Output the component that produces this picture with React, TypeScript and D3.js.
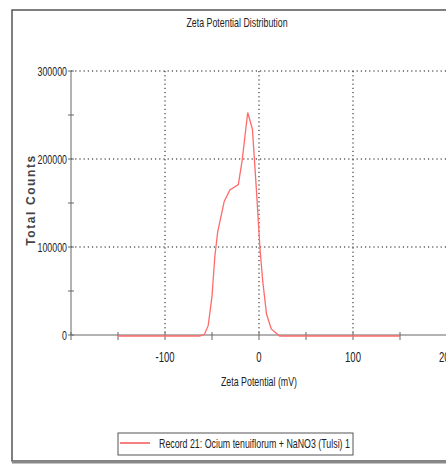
import * as d3 from 'd3'
import { useEffect, useRef } from 'react'

// zeta potential (mV) and total counts
const zeta = [-150, -63, -58, -54, -50, -47, -44, -41, -37, -31, -22, -18, -12, -7, -3, 1, 4, 8, 13, 22, 150]
const counts = [0, 0, 2000, 12000, 45000, 90000, 118000, 133000, 153000, 166000, 172000, 199000, 254000, 235000, 170000, 100000, 62000, 25000, 8000, 0, 0]
const xTicks = [-100, 0, 100, 200]
const xMinor = [-200, -150, -100, -50, 0, 50, 100, 150, 200]
const yTicks = [0, 100000, 200000, 300000]
const yMinor = [50000, 150000, 250000]
const legendLabel = 'Record 21: Ocium tenuiflorum + NaNO3 (Tulsi) 1'

const W = 446
const H = 465
const SX = 0.68
const FONT = 'Liberation Sans, Arial, sans-serif'

const App = () => {
  const svgRef = useRef<SVGSVGElement>(null)

  useEffect(() => {
    const svg = d3.select(svgRef.current)
    svg.selectAll('*').remove()

    const x = d3.scaleLinear().domain([-200, 200]).range([71, 447])
    const y = d3.scaleLinear().domain([0, 300000]).range([335, 71])

    // squeezed text like the instrument export
    const label = (tx: number, ty: number, s: string, anchor: string, size = 13) =>
      svg
        .append('text')
        .attr('transform', `translate(${tx},${ty}) scale(${SX},1)`)
        .attr('text-anchor', anchor)
        .style('font-family', FONT)
        .style('font-size', size)
        .style('fill', '#222')
        .text(s)

    // outer frame
    svg
      .append('rect')
      .attr('x', 12)
      .attr('y', 10)
      .attr('width', 460)
      .attr('height', 451)
      .attr('fill', 'none')
      .attr('stroke', '#555')
      .attr('stroke-width', 1.5)
    svg
      .append('line')
      .attr('x1', 12).attr('x2', W)
      .attr('y1', 462).attr('y2', 462)
      .attr('stroke', '#888')
      .attr('stroke-width', 3)

    label(237, 27, 'Zeta Potential Distribution', 'middle', 13)

    // grid
    const grid = svg.append('g').attr('stroke', '#111').attr('stroke-dasharray', '1.2,3')
    grid
      .selectAll('line.h')
      .data(yTicks.filter((d) => d > 0))
      .join('line')
      .attr('x1', x(-200)).attr('x2', W)
      .attr('y1', (d) => y(d)).attr('y2', (d) => y(d))
    grid
      .selectAll('line.v')
      .data([-100, 0, 100])
      .join('line')
      .attr('x1', (d) => x(d)).attr('x2', (d) => x(d))
      .attr('y1', y(300000)).attr('y2', y(0))

    // axes
    const ax = svg.append('g').attr('stroke', '#666').attr('stroke-width', 1)
    ax.append('line').attr('x1', x(-200)).attr('x2', W).attr('y1', y(0)).attr('y2', y(0))
    ax.append('line').attr('x1', x(-200)).attr('x2', x(-200)).attr('y1', y(300000)).attr('y2', y(0))
    ax.selectAll('line.xt')
      .data(xMinor)
      .join('line')
      .attr('x1', (d) => x(d)).attr('x2', (d) => x(d))
      .attr('y1', y(0) - 3).attr('y2', y(0) + 5)
    ax.selectAll('line.yt')
      .data([...yTicks, ...yMinor])
      .join('line')
      .attr('x1', x(-200) - 3).attr('x2', x(-200) + 3)
      .attr('y1', (d) => y(d)).attr('y2', (d) => y(d))

    yTicks.forEach((t) => label(x(-200) - 4, y(t) + 5, String(t), 'end', 13))
    xTicks.forEach((t) => label(x(t), 362, String(t), 'middle', 14))
    label(259, 386, 'Zeta Potential (mV)', 'middle', 13)

    svg
      .append('text')
      .attr('transform', `translate(35,200) rotate(-90)`)
      .attr('text-anchor', 'middle')
      .style('font-family', FONT)
      .style('font-size', 12)
      .style('font-weight', 'bold')
      .style('letter-spacing', '1.6px')
      .style('fill', '#444')
      .text('Total Counts')

    // data line
    const line = d3
      .line<number>()
      .x((d, i) => x(zeta[i]))
      .y((d) => y(d) + 1)
    svg
      .append('path')
      .datum(counts)
      .attr('d', line)
      .attr('fill', 'none')
      .attr('stroke', '#ff6b6b')
      .attr('stroke-width', 1.3)

    // legend
    svg
      .append('rect')
      .attr('x', 118).attr('y', 433)
      .attr('width', 235).attr('height', 22)
      .attr('fill', 'white')
      .attr('stroke', '#555')
    svg
      .append('line')
      .attr('x1', 120).attr('x2', 150)
      .attr('y1', 443).attr('y2', 443)
      .attr('stroke', '#e00')
    label(159, 448, legendLabel, 'start', 13)
  }, [])

  return (
    <div style={{ position: 'absolute', left: 0, top: 0 }}>
      <svg ref={svgRef} width={W} height={H} style={{ display: 'block', background: 'white' }}></svg>
    </div>
  )
}
export default App
